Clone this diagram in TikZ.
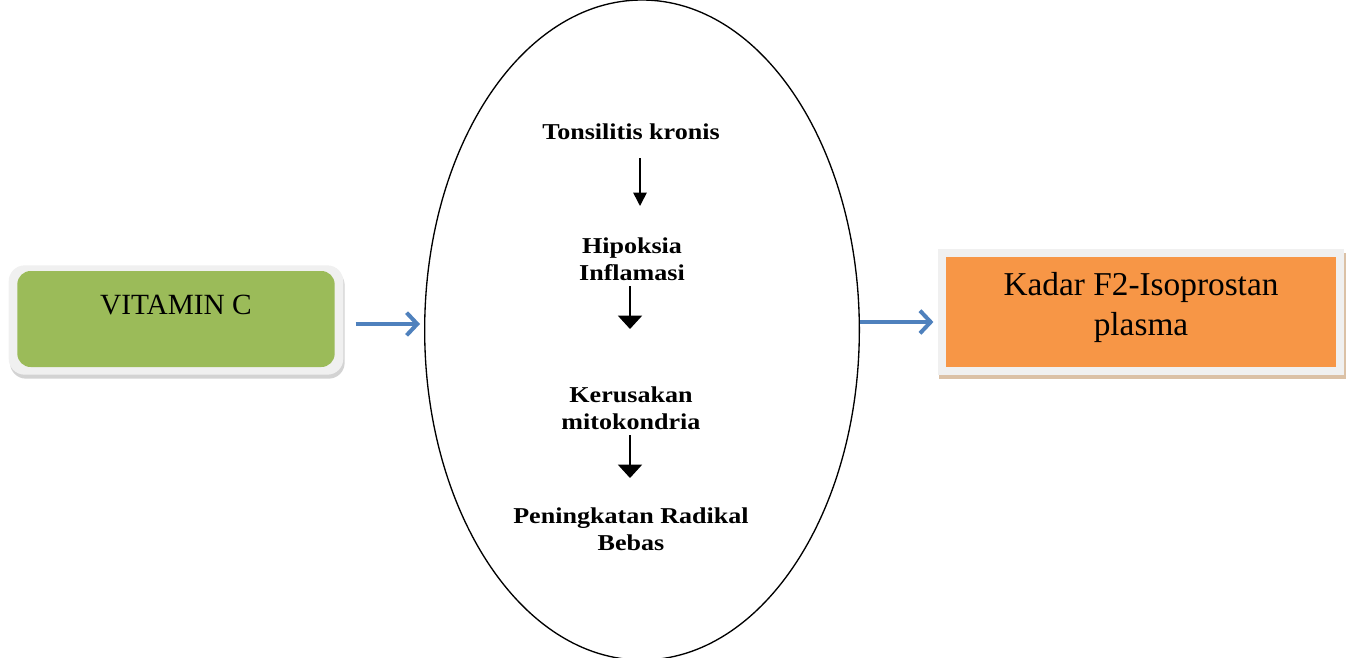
\documentclass[tikz,border=0pt]{standalone}
\usepackage{fontspec}
\setmainfont{Liberation Serif}
\newfontfamily\widefont[FakeStretch=1.15]{Liberation Serif}
\usetikzlibrary{shapes.geometric,shadows,arrows.meta,calc}
\definecolor{vgreen}{HTML}{9BBB59}
\definecolor{korange}{HTML}{F79646}
\definecolor{ablue}{HTML}{4F81BD}
\tikzset{
  px/.style={x=0.75pt,y=-0.75pt},
  blueArrow/.style={draw=ablue,line width=3.6pt,-{Straight Barb[length=8pt,width=17pt,line width=3pt]}},
  blackArrow/.style={draw=black,line width=1.2pt,-{Triangle[length=10pt,width=10pt]}},
  wideArrow/.style={draw=black,line width=1.2pt,-{Triangle[length=10pt,width=18pt]}},
  ctext/.style={font=\widefont\fontsize{17}{20}\selectfont\bfseries,align=center,inner sep=0pt},
}
\begin{document}
\begin{tikzpicture}[px]
\useasboundingbox (0,0) rectangle (1355,657);
% ellipse
\node[ellipse,draw=black,line width=1pt,minimum width=326pt,minimum height=495pt,inner sep=0pt] (ell) at (642,330) {};
% vitamin C box
\node[draw=none,fill=white!94!black,rounded corners=12pt,minimum width=251pt,minimum height=82pt,
      drop shadow={shadow xshift=1pt,shadow yshift=-3pt,opacity=0.35}] (gout) at (176,320) {};
\node[fill=vgreen,rounded corners=10pt,minimum width=238pt,minimum height=72pt,inner sep=0pt] (g) at (176,319) {};
\node[font=\fontsize{22}{26}\selectfont,inner sep=0pt] (gt) at (176,305) {VITAMIN C};
% orange box
\node[fill=white!94!black,minimum width=305pt,minimum height=94pt,
      drop shadow={shadow xshift=1pt,shadow yshift=-3pt,opacity=0.35,fill=orange!60!black}] (oout) at (1141,312) {};
\node[fill=korange,minimum width=293pt,minimum height=82pt,inner sep=0pt] (o) at (1141,312) {};
\node[font=\fontsize{25}{30}\selectfont,align=center,inner sep=0pt] (ot) at (1141,307) {Kadar F2-Isoprostan\\plasma};
% center texts
\node[ctext] (t1) at (631,132) {Tonsilitis kronis};
\node[ctext] (t2) at (632,259) {Hipoksia\\Inflamasi};
\node[ctext] (t3) at (631,408) {Kerusakan\\mitokondria};
\node[ctext] (t4) at (631,529) {Peningkatan Radikal\\Bebas};
% center arrows
\coordinate (a1s) at (640,158); \coordinate (a1e) at (640,206);
\coordinate (a2s) at (630,286); \coordinate (a2e) at (630,329);
\coordinate (a3s) at (630,435); \coordinate (a3e) at (630,478);
\draw[blackArrow] (a1s) -- (a1e);
\draw[wideArrow] (a2s) -- (a2e);
\draw[wideArrow] (a3s) -- (a3e);
% blue arrows
\draw[blueArrow] ($(gout.east)+(12,4)$) -- ($(ell.west)+(-4,-6)$);
\draw[blueArrow] ($(ell.east)+(0,-8)$) -- ($(oout.west)+(-4,10)$);
\end{tikzpicture}
\end{document}
